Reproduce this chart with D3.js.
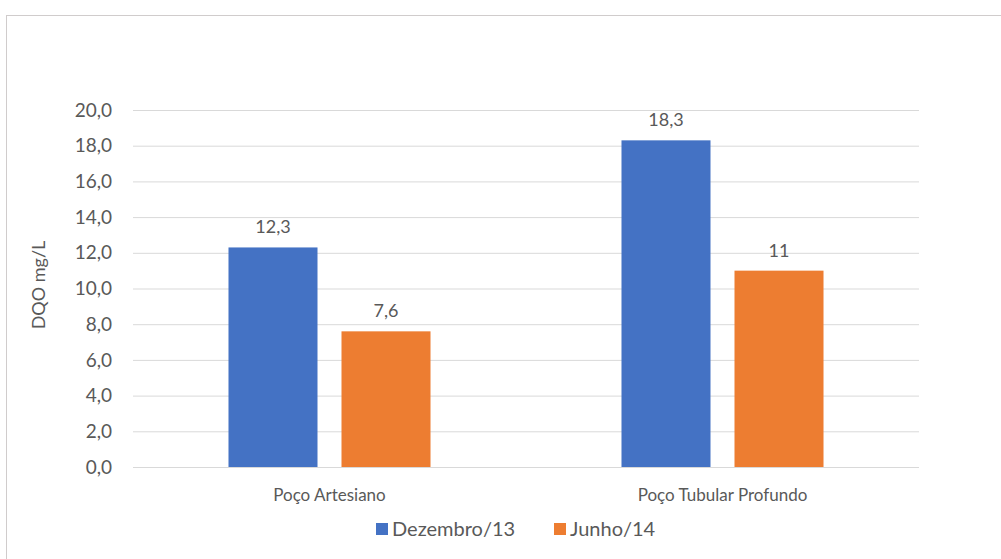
<!DOCTYPE html>
<html lang="pt">
<head>
<meta charset="UTF-8">
<title>DQO mg/L</title>
<script src="https://d3js.org/d3.v7.min.js"></script>
<style>
    body { margin: 0; background: #fff; }
    text { font-family: Lato, "Open Sans", sans-serif; fill: #595959; }
    .grid line { stroke: #d9d9d9; }
</style>
</head>
<body>
<svg id="svg" width="1001" height="559"></svg>
<script>
// data
let categories = ['Poço Artesiano', 'Poço Tubular Profundo'];
let seriesNames = ['Dezembro/13', 'Junho/14'];
let dezembro = [12.3, 18.3];
let junho = [7.6, 11];
let valueLabels = [['12,3', '18,3'], ['7,6', '11']];
let colors = ['#4472C4', '#ED7D31'];

let svg = d3.select('#svg');

// outer frame of the chart
svg.append('rect')
    .attr('x', 6.5).attr('y', 15.5)
    .attr('width', 1010).attr('height', 560)
    .attr('fill', 'none')
    .attr('stroke', '#d0cccc');

let plotLeft = 133, plotRight = 919, plotTop = 110, plotBottom = 467;

let x = d3.scaleBand().domain(categories).range([plotLeft, plotRight]);
let xs = d3.scaleBand().domain(seriesNames).range([0, x.bandwidth()]).paddingInner(0.2124).paddingOuter(0.845);
let y = d3.scaleLinear().domain([0, 20]).range([plotBottom, plotTop]);

// gridlines
svg.append('g')
    .attr('class', 'grid')
    .attr('transform', `translate(${plotLeft},0)`)
    .call(d3.axisLeft(y).ticks(10).tickSize(-(plotRight - plotLeft)).tickFormat(''))
    .call(g => g.select('.domain').remove());

// y tick labels
svg.append('g')
    .selectAll('text')
    .data(d3.range(0, 20.1, 2))
    .enter()
    .append('text')
    .attr('x', 112)
    .attr('y', d => y(d))
    .attr('dy', '0.35em')
    .attr('text-anchor', 'end')
    .attr('font-size', 19)
    .text(d => d.toFixed(1).replace('.', ','));

// axis title
svg.append('text')
    .attr('transform', 'translate(45,285) rotate(-90)')
    .attr('text-anchor', 'middle')
    .attr('font-size', 18)
    .text('DQO mg/L');

let series = [dezembro, junho];
series.forEach((vals, si) => {
    let g = svg.append('g');
    g.selectAll('rect')
        .data(vals)
        .enter()
        .append('rect')
        .attr('x', (d, i) => x(categories[i]) + xs(seriesNames[si]))
        .attr('y', d => y(d))
        .attr('width', xs.bandwidth())
        .attr('height', d => plotBottom - y(d))
        .attr('fill', colors[si]);
    g.selectAll('text')
        .data(vals)
        .enter()
        .append('text')
        .attr('x', (d, i) => x(categories[i]) + xs(seriesNames[si]) + xs.bandwidth() / 2)
        .attr('y', d => y(d) - 14)
        .attr('text-anchor', 'middle')
        .attr('font-size', 18)
        .text((d, i) => valueLabels[si][i]);
});

// category labels
svg.append('g')
    .selectAll('text')
    .data(categories)
    .enter()
    .append('text')
    .attr('x', d => x(d) + x.bandwidth() / 2)
    .attr('y', 501)
    .attr('text-anchor', 'middle')
    .attr('font-size', 17)
    .text(d => d);

// legend
let legendX = [376, 554];
let legend = svg.append('g');
seriesNames.forEach((name, i) => {
    legend.append('rect')
        .attr('x', legendX[i]).attr('y', 523)
        .attr('width', 12).attr('height', 12)
        .attr('fill', colors[i]);
    legend.append('text')
        .attr('x', legendX[i] + 16).attr('y', 536)
        .attr('font-size', 20)
        .text(name);
});
</script>
</body>
</html>
